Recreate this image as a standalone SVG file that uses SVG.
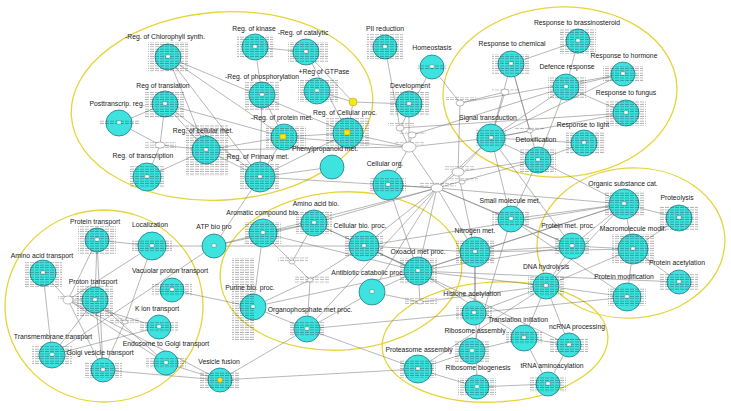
<svg xmlns="http://www.w3.org/2000/svg" width="731" height="411" viewBox="0 0 731 411">
<defs>
<pattern id="tx" width="10" height="2.4" patternUnits="userSpaceOnUse">
<line x1="0" y1="1.1" x2="4" y2="1.1" stroke="#222" stroke-width="0.7"/>
<line x1="5" y1="1.1" x2="9" y2="1.1" stroke="#222" stroke-width="0.7"/>
</pattern>
<marker id="ah" viewBox="0 0 6 6" refX="6" refY="3" markerWidth="4" markerHeight="4" orient="auto">
<path d="M0,0 L6,3 L0,6 z" fill="#111"/>
</marker>
</defs>
<style>
.grp{fill:none;stroke:#e6d43a;stroke-width:1.3}
.node circle{fill:#3ee3e0;stroke:#1a7f86;stroke-width:0.8}
.tx{fill:url(#tx);opacity:0.55}
.ctr{fill:#fff;stroke:#555;stroke-width:0.3}
.node text{font-family:"Liberation Sans",Arial,sans-serif;font-size:6.8px;fill:#222;text-anchor:middle}
.hub ellipse{fill:#fff;stroke:#777;stroke-width:0.5}
.hub rect{fill:url(#tx);opacity:0.45}
#edges line{stroke:#7a7a7a;stroke-width:0.55}
#edges line.a{marker-end:url(#ah)}
.node .yel{fill:#f4e81c;stroke:#a89a00;stroke-width:0.5}
</style>
<rect width="731" height="411" fill="#fff"/>
<g id="groups">
<ellipse class="grp" cx="222" cy="106" rx="151" ry="94" transform="rotate(-4 222 106)"/>
<ellipse class="grp" cx="560" cy="92" rx="117" ry="85" transform="rotate(-3 560 92)"/>
<ellipse class="grp" cx="104" cy="306" rx="99" ry="96"/>
<ellipse class="grp" cx="341" cy="271" rx="121" ry="79" transform="rotate(-4 341 271)"/>
<ellipse class="grp" cx="495" cy="342" rx="113" ry="60" transform="rotate(-3 495 342)"/>
<ellipse class="grp" cx="631" cy="243" rx="94" ry="75" transform="rotate(-4 631 243)"/>
</g>
<g id="edges">
<line x1="168" y1="57" x2="206" y2="150"/><line x1="168" y1="57" x2="260" y2="177"/><line x1="168" y1="57" x2="284" y2="137"/><line x1="168" y1="57" x2="348" y2="133"/>
<line x1="165" y1="104" x2="206" y2="150"/><line x1="165" y1="104" x2="260" y2="177"/><line x1="165" y1="104" x2="284" y2="137"/><line x1="165" y1="104" x2="119" y2="123"/><line x1="165" y1="104" x2="160" y2="145"/>
<line x1="119" y1="123" x2="160" y2="145" class="a"/><line x1="160" y1="145" x2="206" y2="150"/><line x1="147" y1="177" x2="206" y2="150"/><line x1="147" y1="177" x2="160" y2="145"/>
<line x1="206" y1="150" x2="260" y2="177"/><line x1="206" y1="150" x2="284" y2="137"/><line x1="206" y1="150" x2="409" y2="147"/>
<line x1="255" y1="47" x2="262" y2="95"/><line x1="255" y1="47" x2="306" y2="52"/><line x1="262" y1="95" x2="260" y2="177"/><line x1="262" y1="95" x2="284" y2="137"/>
<line x1="284" y1="137" x2="260" y2="177"/><line x1="284" y1="137" x2="348" y2="133"/><line x1="306" y1="52" x2="353" y2="102" class="a"/><line x1="317" y1="91" x2="353" y2="102" class="a"/>
<line x1="353" y1="102" x2="348" y2="133" class="a"/><line x1="348" y1="133" x2="260" y2="177"/><line x1="260" y1="177" x2="332" y2="167"/><line x1="306" y1="52" x2="348" y2="133"/>
<line x1="284" y1="137" x2="409" y2="147"/><line x1="348" y1="133" x2="409" y2="147"/><line x1="260" y1="177" x2="437" y2="188"/><line x1="353" y1="102" x2="409" y2="104"/>
<line x1="385" y1="47" x2="400" y2="128"/><line x1="432" y1="67" x2="460" y2="103"/><line x1="409" y1="104" x2="409" y2="147" class="a"/><line x1="409" y1="147" x2="388" y2="185"/>
<line x1="409" y1="147" x2="437" y2="188"/><line x1="400" y1="128" x2="409" y2="147"/><line x1="412" y1="135" x2="409" y2="147"/><line x1="432" y1="67" x2="400" y2="128"/>
<line x1="388" y1="185" x2="437" y2="188"/><line x1="437" y1="188" x2="458" y2="172"/><line x1="458" y1="172" x2="491" y2="138" class="a"/><line x1="460" y1="103" x2="458" y2="172"/>
<line x1="460" y1="103" x2="505" y2="92"/><line x1="491" y1="138" x2="505" y2="92"/><line x1="511" y1="64" x2="530" y2="131"/><line x1="530" y1="131" x2="491" y2="138"/>
<line x1="511" y1="64" x2="491" y2="138"/><line x1="511" y1="64" x2="538" y2="160" class="a"/><line x1="566" y1="87" x2="491" y2="138"/><line x1="623" y1="74" x2="491" y2="138"/>
<line x1="626" y1="113" x2="491" y2="138"/><line x1="584" y1="143" x2="491" y2="138"/><line x1="566" y1="87" x2="538" y2="160"/><line x1="578" y1="41" x2="511" y2="64"/>
<line x1="578" y1="41" x2="566" y2="87"/><line x1="623" y1="74" x2="566" y2="87"/><line x1="626" y1="113" x2="566" y2="87"/><line x1="584" y1="143" x2="538" y2="160"/>
<line x1="538" y1="160" x2="491" y2="138"/><line x1="538" y1="160" x2="458" y2="172"/><line x1="491" y1="138" x2="437" y2="188"/><line x1="491" y1="138" x2="511" y2="219"/>
<line x1="409" y1="147" x2="491" y2="138"/><line x1="412" y1="135" x2="566" y2="87"/><line x1="400" y1="128" x2="626" y2="113"/><line x1="460" y1="103" x2="623" y2="74"/>
<line x1="437" y1="188" x2="314" y2="223"/><line x1="437" y1="188" x2="364" y2="246"/><line x1="437" y1="188" x2="418" y2="271" class="a"/><line x1="437" y1="188" x2="475" y2="252"/>
<line x1="437" y1="188" x2="511" y2="219"/><line x1="437" y1="188" x2="624" y2="204"/><line x1="437" y1="188" x2="572" y2="246"/><line x1="437" y1="188" x2="372" y2="292"/>
<line x1="437" y1="188" x2="263" y2="233"/><line x1="437" y1="188" x2="307" y2="329"/><line x1="437" y1="188" x2="538" y2="160"/><line x1="458" y1="172" x2="475" y2="252"/>
<line x1="263" y1="233" x2="292" y2="262" class="a"/><line x1="314" y1="223" x2="292" y2="262"/><line x1="292" y1="262" x2="310" y2="280" class="a"/><line x1="310" y1="280" x2="253" y2="307"/>
<line x1="310" y1="280" x2="307" y2="329"/><line x1="263" y1="233" x2="253" y2="307"/><line x1="314" y1="223" x2="364" y2="246"/><line x1="364" y1="246" x2="418" y2="271"/>
<line x1="418" y1="271" x2="475" y2="252"/><line x1="475" y1="252" x2="624" y2="204"/><line x1="418" y1="271" x2="624" y2="204"/><line x1="475" y1="252" x2="572" y2="246"/>
<line x1="418" y1="271" x2="572" y2="246"/><line x1="364" y1="246" x2="624" y2="204"/><line x1="475" y1="252" x2="633" y2="249"/><line x1="418" y1="271" x2="546" y2="286"/>
<line x1="372" y1="292" x2="418" y2="271"/><line x1="372" y1="292" x2="307" y2="329"/><line x1="307" y1="329" x2="418" y2="369"/><line x1="253" y1="307" x2="307" y2="329"/>
<line x1="214" y1="246" x2="263" y2="233"/><line x1="214" y1="246" x2="260" y2="177"/><line x1="263" y1="233" x2="314" y2="223"/><line x1="364" y1="246" x2="475" y2="252"/>
<line x1="307" y1="329" x2="474" y2="313"/><line x1="263" y1="233" x2="418" y2="271"/><line x1="314" y1="223" x2="418" y2="271"/><line x1="364" y1="246" x2="310" y2="280"/>
<line x1="418" y1="271" x2="420" y2="302" class="a"/><line x1="420" y1="302" x2="372" y2="292"/><line x1="420" y1="302" x2="546" y2="286"/><line x1="253" y1="307" x2="418" y2="271"/>
<line x1="97" y1="240" x2="152" y2="246"/><line x1="97" y1="240" x2="68" y2="300"/><line x1="97" y1="240" x2="95" y2="300"/><line x1="97" y1="240" x2="103" y2="370"/>
<line x1="152" y1="246" x2="214" y2="246"/><line x1="152" y1="246" x2="125" y2="322" class="a"/><line x1="152" y1="246" x2="68" y2="300"/><line x1="43" y1="273" x2="68" y2="300"/>
<line x1="43" y1="273" x2="52" y2="355"/><line x1="68" y1="300" x2="95" y2="300"/><line x1="95" y1="300" x2="52" y2="355"/><line x1="95" y1="300" x2="103" y2="370"/>
<line x1="68" y1="300" x2="159" y2="327"/><line x1="68" y1="300" x2="166" y2="363"/><line x1="68" y1="300" x2="220" y2="380"/><line x1="159" y1="327" x2="52" y2="355"/>
<line x1="172" y1="290" x2="253" y2="307"/><line x1="103" y1="370" x2="220" y2="380"/><line x1="166" y1="363" x2="220" y2="380"/><line x1="220" y1="380" x2="307" y2="329"/>
<line x1="220" y1="380" x2="418" y2="369"/><line x1="214" y1="246" x2="364" y2="246"/><line x1="214" y1="246" x2="314" y2="223"/><line x1="95" y1="300" x2="125" y2="322"/>
<line x1="125" y1="322" x2="103" y2="370"/><line x1="52" y1="355" x2="214" y2="246"/><line x1="68" y1="300" x2="103" y2="370"/><line x1="95" y1="300" x2="166" y2="363"/>
<line x1="474" y1="313" x2="546" y2="286"/><line x1="474" y1="313" x2="475" y2="252"/><line x1="472" y1="351" x2="524" y2="338"/><line x1="472" y1="351" x2="418" y2="369"/>
<line x1="477" y1="387" x2="418" y2="369"/><line x1="477" y1="387" x2="548" y2="384"/><line x1="524" y1="338" x2="548" y2="384"/><line x1="524" y1="338" x2="569" y2="345"/>
<line x1="569" y1="345" x2="546" y2="286"/><line x1="524" y1="338" x2="546" y2="286"/><line x1="548" y1="384" x2="569" y2="345"/><line x1="546" y1="286" x2="572" y2="246"/>
<line x1="546" y1="286" x2="627" y2="297"/><line x1="546" y1="286" x2="624" y2="204"/><line x1="474" y1="313" x2="627" y2="297"/><line x1="418" y1="369" x2="546" y2="286"/>
<line x1="472" y1="351" x2="511" y2="219"/><line x1="418" y1="271" x2="524" y2="338"/><line x1="475" y1="252" x2="477" y2="387"/><line x1="364" y1="246" x2="569" y2="345"/>
<line x1="624" y1="204" x2="679" y2="218"/><line x1="624" y1="204" x2="633" y2="249"/><line x1="633" y1="249" x2="679" y2="282"/><line x1="633" y1="249" x2="627" y2="297"/>
<line x1="572" y1="246" x2="633" y2="249"/><line x1="511" y1="219" x2="624" y2="204"/><line x1="572" y1="246" x2="624" y2="204"/><line x1="679" y1="218" x2="633" y2="249"/>
<line x1="624" y1="204" x2="538" y2="160"/><line x1="511" y1="219" x2="538" y2="160"/><line x1="572" y1="246" x2="491" y2="138"/><line x1="511" y1="219" x2="572" y2="246"/>
<line x1="418" y1="271" x2="679" y2="282"/><line x1="546" y1="286" x2="633" y2="249"/><line x1="511" y1="219" x2="627" y2="297"/><line x1="388" y1="185" x2="418" y2="271"/>
</g>
<g id="hubs">
<g class="hub" id="h1"><rect x="144" y="142" width="32" height="6"/><ellipse cx="160" cy="145" rx="5" ry="3"/></g>
<g class="hub" id="h2"><rect x="395" y="141" width="30" height="4"/><ellipse cx="409" cy="147" rx="7" ry="5"/></g>
<g class="hub" id="h3"><rect x="420" y="182" width="36" height="5"/><ellipse cx="437" cy="188" rx="6" ry="4"/></g>
<g class="hub" id="h4"><rect x="444" y="166" width="30" height="4"/><ellipse cx="458" cy="172" rx="6" ry="4"/></g>
<g class="hub" id="h5"><rect x="446" y="97" width="30" height="4"/><ellipse cx="460" cy="103" rx="4" ry="3"/></g>
<g class="hub" id="h6"><rect x="388" y="122" width="26" height="4"/><ellipse cx="400" cy="128" rx="4" ry="3"/></g>
<g class="hub" id="h7"><rect x="58" y="296" width="24" height="3"/><ellipse cx="68" cy="300" rx="5" ry="4"/></g>
<g class="hub" id="h8"><rect x="295" y="276" width="34" height="8"/><ellipse cx="310" cy="280" rx="3" ry="2"/></g>
<g class="hub" id="h9"><rect x="278" y="256" width="30" height="6"/><ellipse cx="292" cy="262" rx="3" ry="2"/></g>
<g class="hub" id="h10"><rect x="400" y="131" width="26" height="3"/><ellipse cx="412" cy="135" rx="4" ry="3"/></g>
<g class="hub" id="h11"><rect x="492" y="88" width="28" height="3"/><ellipse cx="505" cy="92" rx="4" ry="3"/></g>
<g class="hub" id="h12"><rect x="515" y="127" width="30" height="3"/><ellipse cx="530" cy="131" rx="3" ry="2"/></g>
<g class="hub" id="h13"><rect x="110" y="318" width="30" height="6"/><ellipse cx="125" cy="322" rx="3" ry="2"/></g>
<g class="hub" id="h14"><rect x="405" y="298" width="32" height="6"/><ellipse cx="420" cy="302" rx="3" ry="2"/></g>
<g class="hub" id="h15"><rect x="450" y="178" width="28" height="3"/><ellipse cx="462" cy="182" rx="3" ry="2"/></g>
</g>
<g id="nodes">
<g class="node" id="n-chloro"><circle cx="168" cy="57" r="13"/><rect class="tx" x="148" y="42" width="40" height="30"/><rect class="ctr" x="166" y="55" width="4" height="3"/><text x="165" y="39">-Reg. of Chlorophyll synth.</text></g>
<g class="node" id="n-transl"><circle cx="165" cy="104" r="13"/><rect class="tx" x="145" y="92" width="40" height="26"/><rect class="ctr" x="163" y="102" width="4" height="3"/><text x="163" y="88">Reg of translation</text></g>
<g class="node" id="n-posttr"><circle cx="119" cy="123" r="13"/><rect class="tx" x="99" y="120" width="40" height="5"/><rect class="ctr" x="117" y="121" width="4" height="3"/><text x="117" y="106">Posttranscrip. reg.</text></g>
<g class="node" id="n-transc"><circle cx="147" cy="177" r="14"/><rect class="tx" x="130" y="166" width="34" height="22"/><rect class="ctr" x="145" y="175" width="4" height="3"/><text x="143" y="158">Reg. of transcription</text></g>
<g class="node" id="n-rcm"><circle cx="206" cy="150" r="14"/><rect class="tx" x="186" y="124" width="42" height="52"/><rect class="ctr" x="204" y="148" width="4" height="3"/><text x="203" y="133">Reg. of cellular met.</text></g>
<g class="node" id="n-kinase"><circle cx="255" cy="47" r="13"/><rect class="tx" x="237" y="36" width="36" height="22"/><rect class="ctr" x="253" y="45" width="4" height="3"/><text x="254" y="31">Reg. of kinase</text></g>
<g class="node" id="n-catal"><circle cx="306" cy="52" r="13"/><rect class="tx" x="288" y="42" width="40" height="20"/><rect class="ctr" x="304" y="50" width="4" height="3"/><text x="303" y="35">-Reg. of catalytic</text></g>
<g class="node" id="n-phos"><circle cx="262" cy="95" r="13"/><rect class="tx" x="245" y="82" width="34" height="28"/><rect class="ctr" x="260" y="93" width="4" height="3"/><text x="262" y="79">-Reg. of phosphorylation</text></g>
<g class="node" id="n-gtp"><circle cx="317" cy="91" r="13"/><rect class="tx" x="298" y="80" width="40" height="22"/><rect class="ctr" x="315" y="89" width="4" height="3"/><text x="324" y="74">+Reg of GTPase</text></g>
<g class="node" id="n-yel"><circle cx="353" cy="102" r="4" class="yel"/></g>
<g class="node" id="n-rpm"><circle cx="284" cy="137" r="13"/><rect class="tx" x="266" y="126" width="40" height="22"/><rect x="280" y="134" width="6" height="5" class="yel"/><text x="282" y="120">-Reg. of protein met.</text></g>
<g class="node" id="n-rcp"><circle cx="348" cy="133" r="15"/><rect class="tx" x="326" y="118" width="44" height="28"/><rect x="344" y="130" width="6" height="5" class="yel"/><text x="345" y="115">Reg. of Cellular proc.</text></g>
<g class="node" id="n-prim"><circle cx="260" cy="177" r="15"/><rect class="tx" x="240" y="164" width="40" height="26"/><rect class="ctr" x="258" y="175" width="4" height="3"/><text x="258" y="159">Reg. of Primary met.</text></g>
<g class="node" id="n-phen"><circle cx="332" cy="167" r="12"/><text x="325" y="151">Phenylpropanoid met.</text></g>
<g class="node" id="n-pii"><circle cx="385" cy="47" r="12"/><rect class="tx" x="367" y="34" width="36" height="26"/><rect class="ctr" x="383" y="45" width="4" height="3"/><text x="385" y="31">PII reduction</text></g>
<g class="node" id="n-homeo"><circle cx="432" cy="67" r="12"/><rect class="tx" x="418" y="64" width="28" height="6"/><rect class="ctr" x="430" y="65" width="4" height="3"/><text x="432" y="50">Homeostasis</text></g>
<g class="node" id="n-dev"><circle cx="409" cy="104" r="13"/><rect class="tx" x="390" y="92" width="40" height="24"/><rect class="ctr" x="407" y="102" width="4" height="3"/><text x="410" y="88">Development</text></g>
<g class="node" id="n-corg"><circle cx="388" cy="185" r="15"/><rect class="tx" x="370" y="178" width="36" height="14"/><rect class="ctr" x="386" y="183" width="4" height="3"/><text x="385" y="166">Cellular org.</text></g>
<g class="node" id="n-brass"><circle cx="578" cy="41" r="12"/><rect class="tx" x="560" y="28" width="36" height="26"/><rect class="ctr" x="576" y="39" width="4" height="3"/><text x="577" y="25">Response to brassinosteroid</text></g>
<g class="node" id="n-chem"><circle cx="511" cy="64" r="13"/><rect class="tx" x="492" y="54" width="38" height="20"/><rect class="ctr" x="509" y="62" width="4" height="3"/><text x="512" y="46">Response to chemical</text></g>
<g class="node" id="n-def"><circle cx="566" cy="87" r="13"/><rect class="tx" x="548" y="76" width="38" height="22"/><rect class="ctr" x="564" y="85" width="4" height="3"/><text x="567" y="69">Defence response</text></g>
<g class="node" id="n-horm"><circle cx="623" cy="74" r="12"/><rect class="tx" x="603" y="66" width="40" height="16"/><rect class="ctr" x="621" y="72" width="4" height="3"/><text x="624" y="58">Response to hormone</text></g>
<g class="node" id="n-fung"><circle cx="626" cy="113" r="13"/><rect class="tx" x="606" y="100" width="40" height="26"/><rect class="ctr" x="624" y="111" width="4" height="3"/><text x="626" y="95">Response to fungus</text></g>
<g class="node" id="n-light"><circle cx="584" cy="143" r="13"/><rect class="tx" x="566" y="132" width="38" height="22"/><rect class="ctr" x="582" y="141" width="4" height="3"/><text x="583" y="127">Response to light</text></g>
<g class="node" id="n-sig"><circle cx="491" cy="138" r="14"/><rect class="tx" x="476" y="130" width="30" height="16"/><rect class="ctr" x="489" y="136" width="4" height="3"/><text x="488" y="120">Signal transduction</text></g>
<g class="node" id="n-detox"><circle cx="538" cy="160" r="13"/><rect class="tx" x="520" y="148" width="36" height="24"/><rect class="ctr" x="536" y="158" width="4" height="3"/><text x="536" y="142">Detoxification</text></g>
<g class="node" id="n-ptr"><circle cx="97" cy="240" r="12"/><rect class="tx" x="78" y="226" width="38" height="28"/><rect class="ctr" x="95" y="238" width="4" height="3"/><text x="95" y="224">Protein transport</text></g>
<g class="node" id="n-loc"><circle cx="152" cy="246" r="14"/><rect class="tx" x="132" y="240" width="40" height="12"/><rect class="ctr" x="150" y="244" width="4" height="3"/><text x="150" y="227">Localization</text></g>
<g class="node" id="n-atp"><circle cx="214" cy="246" r="12"/><rect class="ctr" x="212" y="244" width="4" height="3"/><text x="214" y="229">ATP bio pro</text></g>
<g class="node" id="n-aat"><circle cx="43" cy="273" r="13"/><rect class="tx" x="24" y="261" width="38" height="26"/><rect class="ctr" x="41" y="271" width="4" height="3"/><text x="42" y="258">Amino acid transport</text></g>
<g class="node" id="n-vac"><circle cx="172" cy="290" r="12"/><rect class="tx" x="152" y="284" width="40" height="12"/><rect class="ctr" x="170" y="288" width="4" height="3"/><text x="170" y="273">Vacuolar proton transport</text></g>
<g class="node" id="n-prot"><circle cx="95" cy="300" r="13"/><rect class="tx" x="77" y="286" width="36" height="30"/><rect class="ctr" x="93" y="298" width="4" height="3"/><text x="93" y="284">Proton transport</text></g>
<g class="node" id="n-kion"><circle cx="159" cy="327" r="12"/><rect class="tx" x="140" y="322" width="38" height="10"/><rect class="ctr" x="157" y="325" width="4" height="3"/><text x="157" y="311">K ion transport</text></g>
<g class="node" id="n-tmt"><circle cx="52" cy="355" r="13"/><rect class="tx" x="32" y="345" width="40" height="20"/><rect class="ctr" x="50" y="353" width="4" height="3"/><text x="53" y="339">Transmembrane transport</text></g>
<g class="node" id="n-golgi"><circle cx="103" cy="370" r="12"/><rect class="tx" x="84" y="362" width="38" height="16"/><rect class="ctr" x="101" y="368" width="4" height="3"/><text x="100" y="355">Golgi vesicle transport</text></g>
<g class="node" id="n-endo"><circle cx="166" cy="363" r="12"/><rect class="tx" x="146" y="358" width="40" height="10"/><rect class="ctr" x="164" y="361" width="4" height="3"/><text x="166" y="346">Endosome to Golgi transport</text></g>
<g class="node" id="n-vesf"><circle cx="220" cy="380" r="12"/><rect class="tx" x="200" y="372" width="40" height="16"/><circle cx="220" cy="380" r="2.5" class="yel"/><text x="219" y="364">Vesicle fusion</text></g>
<g class="node" id="n-aab"><circle cx="314" cy="223" r="13"/><rect class="tx" x="296" y="212" width="36" height="22"/><rect class="ctr" x="312" y="221" width="4" height="3"/><text x="316" y="206">Amino acid bio.</text></g>
<g class="node" id="n-arom"><circle cx="263" cy="233" r="14"/><rect class="tx" x="245" y="222" width="36" height="22"/><rect class="ctr" x="261" y="231" width="4" height="3"/><text x="263" y="215">Aromatic compound bio.</text></g>
<g class="node" id="n-cbp"><circle cx="364" cy="246" r="15"/><rect class="tx" x="345" y="236" width="38" height="20"/><rect class="ctr" x="362" y="244" width="4" height="3"/><text x="360" y="228">Cellular bio. proc.</text></g>
<g class="node" id="n-nit"><circle cx="475" cy="252" r="15"/><rect class="tx" x="456" y="240" width="38" height="24"/><rect class="ctr" x="473" y="250" width="4" height="3"/><text x="475" y="233">Nitrogen met.</text></g>
<g class="node" id="n-oxo"><circle cx="418" cy="271" r="14"/><rect class="tx" x="399" y="258" width="38" height="26"/><rect class="ctr" x="416" y="269" width="4" height="3"/><text x="418" y="254">Oxoacid met proc.</text></g>
<g class="node" id="n-anti"><circle cx="372" cy="292" r="13"/><rect class="ctr" x="370" y="290" width="4" height="3"/><text x="368" y="275">Antibiotic catabolic proc.</text></g>
<g class="node" id="n-pur"><circle cx="253" cy="307" r="13"/><rect class="tx" x="232" y="258" width="22" height="82"/><rect class="ctr" x="251" y="305" width="4" height="3"/><text x="250" y="290">Purine bio. proc.</text></g>
<g class="node" id="n-org"><circle cx="307" cy="329" r="13"/><rect class="tx" x="290" y="322" width="34" height="14"/><rect class="ctr" x="305" y="327" width="4" height="3"/><text x="310" y="312">Organophosphate met proc.</text></g>
<g class="node" id="n-prs"><circle cx="418" cy="369" r="14"/><rect class="tx" x="400" y="360" width="36" height="18"/><rect class="ctr" x="416" y="367" width="4" height="3"/><text x="419" y="352">Proteasome assembly</text></g>
<g class="node" id="n-hist"><circle cx="474" cy="313" r="12"/><rect class="tx" x="456" y="306" width="36" height="14"/><rect class="ctr" x="472" y="311" width="4" height="3"/><text x="472" y="296">Histone acetylation</text></g>
<g class="node" id="n-riba"><circle cx="472" cy="351" r="13"/><rect class="tx" x="454" y="340" width="36" height="22"/><rect class="ctr" x="470" y="349" width="4" height="3"/><text x="475" y="333">Ribosome assembly</text></g>
<g class="node" id="n-ribb"><circle cx="477" cy="387" r="12"/><rect class="tx" x="458" y="378" width="38" height="18"/><rect class="ctr" x="475" y="385" width="4" height="3"/><text x="478" y="370">Ribosome biogenesis</text></g>
<g class="node" id="n-tri"><circle cx="524" cy="338" r="13"/><rect class="tx" x="506" y="332" width="36" height="12"/><rect class="ctr" x="522" y="336" width="4" height="3"/><text x="518" y="322">Translation initiation</text></g>
<g class="node" id="n-ncr"><circle cx="569" cy="345" r="12"/><rect class="tx" x="550" y="338" width="38" height="14"/><rect class="ctr" x="567" y="343" width="4" height="3"/><text x="577" y="329">ncRNA processing</text></g>
<g class="node" id="n-trna"><circle cx="548" cy="384" r="12"/><rect class="tx" x="530" y="376" width="36" height="16"/><rect class="ctr" x="546" y="382" width="4" height="3"/><text x="552" y="368">tRNA aminoacylation</text></g>
<g class="node" id="n-dna"><circle cx="546" cy="286" r="13"/><rect class="tx" x="528" y="276" width="36" height="20"/><rect class="ctr" x="544" y="284" width="4" height="3"/><text x="546" y="269">DNA hydrolysis</text></g>
<g class="node" id="n-smm"><circle cx="511" cy="219" r="13"/><rect class="tx" x="492" y="212" width="38" height="14"/><rect class="ctr" x="509" y="217" width="4" height="3"/><text x="510" y="203">Small molecule met.</text></g>
<g class="node" id="n-pmp"><circle cx="572" cy="246" r="13"/><rect class="tx" x="554" y="238" width="36" height="16"/><rect class="ctr" x="570" y="244" width="4" height="3"/><text x="568" y="228">Protein met. proc.</text></g>
<g class="node" id="n-osc"><circle cx="624" cy="204" r="15"/><rect class="tx" x="604" y="192" width="40" height="24"/><rect class="ctr" x="622" y="202" width="4" height="3"/><text x="623" y="186">Organic substance cat.</text></g>
<g class="node" id="n-prl"><circle cx="679" cy="218" r="13"/><rect class="tx" x="660" y="206" width="38" height="24"/><rect class="ctr" x="677" y="216" width="4" height="3"/><text x="677" y="200">Proteolysis</text></g>
<g class="node" id="n-mac"><circle cx="633" cy="249" r="15"/><rect class="tx" x="612" y="234" width="42" height="30"/><rect class="ctr" x="631" y="247" width="4" height="3"/><text x="633" y="231">Macromolecule modif.</text></g>
<g class="node" id="n-pac"><circle cx="679" cy="282" r="12"/><rect class="tx" x="660" y="274" width="38" height="16"/><rect class="ctr" x="677" y="280" width="4" height="3"/><text x="677" y="265">Protein acetylation</text></g>
<g class="node" id="n-pmod"><circle cx="627" cy="297" r="14"/><rect class="tx" x="608" y="288" width="38" height="18"/><rect class="ctr" x="625" y="295" width="4" height="3"/><text x="624" y="279">Protein modification</text></g>
</g>
</svg>
